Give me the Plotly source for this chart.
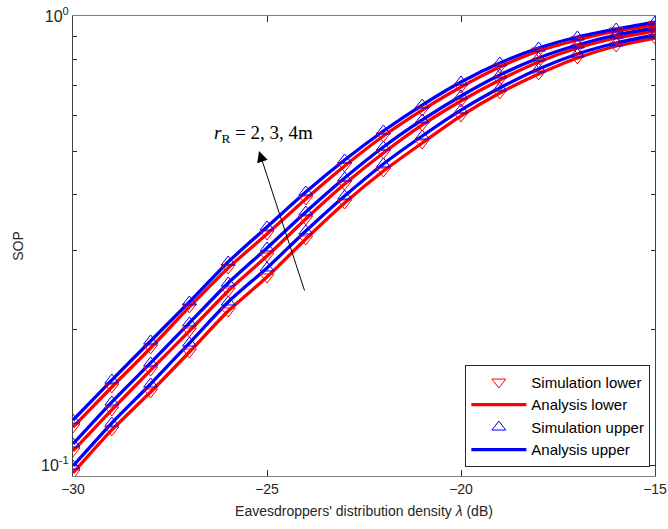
import plotly.graph_objects as go

x_db = [-30, -29, -28, -27, -26, -25, -24, -23, -22, -21, -20, -19, -18, -17, -16, -15]

# r_R = 4 m
upper_r4 = [0.1259, 0.1546, 0.1889, 0.2307, 0.2832, 0.3389, 0.4055, 0.4778, 0.5545, 0.6334, 0.7129, 0.7858, 0.8486, 0.8980, 0.9355, 0.9697]
lower_r4 = [0.1215, 0.1492, 0.1822, 0.2249, 0.2747, 0.3269, 0.3912, 0.4633, 0.5404, 0.6173, 0.6949, 0.7698, 0.8356, 0.8841, 0.9260, 0.9550]
# r_R = 3 m
upper_r3 = [0.1114, 0.1381, 0.1688, 0.2072, 0.2543, 0.3043, 0.3660, 0.4357, 0.5108, 0.5868, 0.6635, 0.7389, 0.8065, 0.8619, 0.9072, 0.9404]
lower_r3 = [0.1075, 0.1326, 0.1627, 0.1988, 0.2441, 0.2920, 0.3531, 0.4223, 0.4953, 0.5719, 0.6467, 0.7202, 0.7900, 0.8486, 0.8933, 0.9260]
# r_R = 2 m
upper_r2 = [0.0995, 0.1240, 0.1515, 0.1869, 0.2307, 0.2747, 0.3320, 0.3972, 0.4682, 0.5404, 0.6173, 0.6912, 0.7621, 0.8230, 0.8707, 0.9072]
lower_r2 = [0.0960, 0.1197, 0.1454, 0.1785, 0.2203, 0.2622, 0.3187, 0.3833, 0.4516, 0.5214, 0.5990, 0.6737, 0.7428, 0.8065, 0.8574, 0.8933]

x_ticks = [-30, -25, -20, -15]
y_ticks = [0.1, 1]
y_ticktext = ["10<sup>-1</sup>", "10<sup>0</sup>"]
y_minor = [0.2, 0.3, 0.4, 0.5, 0.6, 0.7, 0.8, 0.9]

RED = "rgb(255,0,0)"
BLUE = "rgb(0,0,255)"
FONT = "Liberation Sans, Arial, Helvetica, sans-serif"

fig = go.Figure()

lowers = [lower_r2, lower_r3, lower_r4]
uppers = [upper_r2, upper_r3, upper_r4]

# analysis lines
for i, (lo, up) in enumerate(zip(lowers, uppers)):
    fig.add_trace(go.Scatter(x=x_db, y=lo, mode="lines", line=dict(color=RED, width=3.3, shape="spline", smoothing=0.6),
                             name="Analysis lower", legendgroup="al", showlegend=(i == 0), legendrank=2))
    fig.add_trace(go.Scatter(x=x_db, y=up, mode="lines", line=dict(color=BLUE, width=3.3, shape="spline", smoothing=0.6),
                             name="Analysis upper", legendgroup="au", showlegend=(i == 0), legendrank=4))

# simulation markers
for i, (lo, up) in enumerate(zip(lowers, uppers)):
    fig.add_trace(go.Scatter(x=x_db, y=lo, mode="markers",
                             marker=dict(symbol="triangle-down-open", size=12, color=RED, line=dict(width=1, color=RED)),
                             name="Simulation lower", legendgroup="sl", showlegend=(i == 0), legendrank=1))
    fig.add_trace(go.Scatter(x=x_db, y=up, mode="markers",
                             marker=dict(symbol="triangle-up-open", size=12, color=BLUE, line=dict(width=1, color=BLUE)),
                             name="Simulation upper", legendgroup="su", showlegend=(i == 0), legendrank=3))

fig.update_layout(
    width=668, height=529,
    margin=dict(l=73, r=13, t=16, b=53, autoexpand=False),
    paper_bgcolor="white", plot_bgcolor="white",
    font=dict(family=FONT, size=14, color="#262626"),
    showlegend=True,
    legend=dict(x=0.992, y=0.02, xanchor="right", yanchor="bottom",
                bgcolor="white", bordercolor="#262626", borderwidth=1,
                font=dict(family=FONT, size=15, color="#000000"),
                itemwidth=55, tracegroupgap=0),
    xaxis=dict(range=[-30, -15], tickmode="array", tickvals=x_ticks, automargin=False,
               ticklabeloverflow="allow",
               ticks="inside", ticklen=6, tickcolor="#262626", showgrid=False, zeroline=False,
               showline=True, linecolor="#7f7f7f", linewidth=1, mirror="ticks",
               title=dict(text="Eavesdroppers' distribution density <i>λ</i> (dB)", standoff=10,
                          font=dict(family=FONT, size=14, color="#262626")),
               tickfont=dict(family=FONT, size=14, color="#262626")),
    yaxis=dict(type="log", range=[-1.0245, 0], tickmode="array", tickvals=y_ticks, ticktext=y_ticktext,
               automargin=False, ticklabeloverflow="allow",
               ticks="inside", ticklen=6, tickcolor="#262626", showgrid=False, zeroline=False,
               showline=True, linecolor="#404040", linewidth=1, mirror="ticks",
               minor=dict(tickvals=y_minor, ticks="inside", ticklen=4, tickcolor="#262626", showgrid=False),
               title=dict(text="SOP", standoff=14, font=dict(family=FONT, size=14, color="#262626")),
               tickfont=dict(family=FONT, size=16, color="#262626")),
)

fig.add_annotation(x=-25.206, y=-0.3007, ax=-24.021, ay=-0.6147, xref="x", yref="y", axref="x", ayref="y",
                   text="", showarrow=True, arrowhead=2, arrowsize=2.2, arrowwidth=1, arrowcolor="black")
fig.add_annotation(x=-25.08, y=-0.2628, xref="x", yref="y", showarrow=False,
                   text="<i>r</i><sub>R</sub> = 2, 3, 4m",
                   font=dict(family="Liberation Serif, DejaVu Serif, serif", size=19, color="black"))

# remove the default 8px page margin so the figure sits at the window's top-left corner
fig.write_html("out.html", post_script="document.body.style.margin='0';",
               config={"displayModeBar": False})
